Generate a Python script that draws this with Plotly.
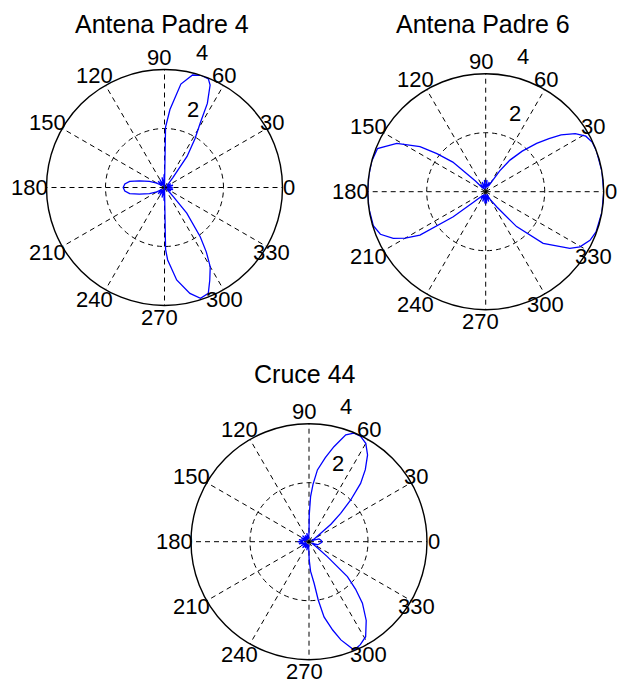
import math
import plotly.graph_objects as go

# ---------------- data ----------------
TITLES = ["Antena Padre 4", "Antena Padre 6", "Cruce 44"]

ANGLE_TICKS = [0, 30, 60, 90, 120, 150, 180, 210, 240, 270, 300, 330]
ANGLE_LABELS = ["0", "30", "60", "90", "120", "150", "180", "210", "240", "270", "300", "330"]
RADIAL_TICKS = [2, 4]
RADIAL_LABELS = ["2", "4"]

P1_THETA = [0, 8, 15, 22, 30, 38, 45, 50, 54, 58, 61, 63, 66, 68, 72, 76, 81, 86, 89, 90,
            92, 97, 104, 112, 120, 128, 136, 144, 150, 158, 165, 170, 175, 180, 185, 190,
            195, 202, 210, 216, 224, 232, 240, 248, 256, 263, 268, 270, 271, 272.5, 277.5,
            283.5, 288, 292.5, 296, 300, 303, 306, 311, 314, 318, 325, 332, 340, 347, 354, 360]
P1_R = [0.28, 0.1, 0.3, 0.08, 0.25, 0.1, 0.2, 0.45, 1.3, 1.95, 2.5, 3.2, 3.8, 3.97, 4.0, 3.93,
        3.55, 2.65, 2.05, 0.0, 0.45, 0.1, 0.35, 0.08, 0.3, 0.1, 0.3, 0.1, 0.3, 0.55, 0.88, 1.2,
        1.35, 1.4, 1.35, 1.2, 0.88, 0.55, 0.3, 0.1, 0.3, 0.1, 0.3, 0.08, 0.35, 0.1, 0.45, 0.0,
        2.1, 2.46, 3.16, 3.69, 3.95, 3.88, 3.5, 3.1, 2.6, 2.06, 1.15, 0.45, 0.2, 0.08, 0.25,
        0.1, 0.3, 0.1, 0.28]

P2_THETA = [0, 10, 20, 25, 29, 33, 37, 40, 43.5, 48, 52.5, 56, 59, 64, 70, 77, 84, 90, 96, 103,
            110, 117, 124, 130, 134, 138, 142, 145.6, 151.5, 158.3, 165, 172, 180, 188, 196.8,
            202, 206.8, 210, 213.4, 217.7, 221, 226, 232, 239, 246, 253, 260, 266, 270, 274,
            280, 287, 294, 300, 306, 311.5, 318, 326, 329.7, 335, 340, 350, 360]
P2_R = [4.0, 4.0, 4.0, 3.98, 3.88, 3.62, 3.2, 2.8, 2.38, 1.85, 1.35, 0.85, 0.4, 0.2, 0.35,
        0.15, 0.4, 0.1, 0.4, 0.15, 0.35, 0.1, 0.3, 0.15, 0.5, 1.5, 2.1, 2.7, 3.43, 3.95, 4.0,
        4.0, 4.0, 4.0, 3.98, 3.85, 3.51, 3.15, 2.67, 1.39, 0.55, 0.25, 0.15, 0.3, 0.1, 0.35,
        0.15, 0.4, 0.1, 0.4, 0.15, 0.35, 0.1, 0.3, 0.63, 1.58, 2.62, 3.44, 3.7, 3.9, 3.98, 4.0,
        4.0]

P3_THETA = [0, 8, 16, 22, 28, 35.7, 38.5, 41.9, 45, 48.5, 52, 56, 60, 64, 67.5, 71, 75.3, 79,
            83.3, 86, 88, 89.5, 90, 97, 105, 113, 121, 129, 137, 145, 153, 161, 168, 174, 180,
            186, 192, 199, 207, 215, 223, 231, 239, 247, 255, 263, 269, 270.5, 273, 277, 279,
            281.3, 285, 288, 292.6, 296.5, 300.8, 306, 311, 314.5, 317.7, 320.8, 325, 332, 340,
            347, 354, 360]
P3_R = [0.45, 0.4, 0.35, 0.1, 0.2, 0.49, 0.95, 1.44, 2.0, 2.64, 3.1, 3.55, 3.85, 3.98, 3.98,
        3.83, 3.33, 2.9, 2.45, 1.95, 1.53, 0.9, 0.3, 0.1, 0.3, 0.1, 0.25, 0.08, 0.3, 0.1, 0.3,
        0.1, 0.35, 0.2, 0.38, 0.2, 0.35, 0.1, 0.3, 0.1, 0.3, 0.1, 0.25, 0.1, 0.3, 0.1, 0.3,
        0.6, 1.0, 1.42, 2.0, 2.6, 3.1, 3.5, 3.98, 3.9, 3.75, 3.3, 2.76, 2.25, 1.76, 0.8, 0.3,
        0.1, 0.3, 0.35, 0.4, 0.45]

SERIES = [(P1_THETA, P1_R), (P2_THETA, P2_R), (P3_THETA, P3_R)]

# ---------------- layout ----------------
W, H = 618, 684
FONT = "Liberation Sans, Arial, sans-serif"
CENTERS = [(164.5, 187.5, 118), (485.7, 191.7, 118), (309.0, 541.7, 118)]
TITLE_POS = [(161.7, 24), (482.5, 24), (305.0, 374)]
RMAX = 4
LABEL_FRAC = 1.1          # MATLAB puts angle labels at 1.1*rmax
LABEL_DX = -5             # small horizontal shift seen in the reference
RLABEL_POS = [(2.83, 69.8), (4.75, 74.6)]   # (radius in data units, angle deg)
TICK_SIZE = 22
TITLE_SIZE = 25


def domain(cx, cy, rad):
    return dict(x=[(cx - rad) / W, (cx + rad) / W],
                y=[(H - (cy + rad)) / H, (H - (cy - rad)) / H])


def to_paper(cx, cy, rad, r_data, ang_deg):
    d = r_data / RMAX * rad
    a = math.radians(ang_deg)
    return (cx + d * math.cos(a)) / W, 1 - (cy - d * math.sin(a)) / H


fig = go.Figure()
layout = dict(width=W, height=H, margin=dict(l=0, r=0, t=0, b=0),
              paper_bgcolor="white", plot_bgcolor="white", showlegend=False,
              font=dict(family=FONT, color="black"))
annotations = []

for i, ((th, rr), (cx, cy, rad)) in enumerate(zip(SERIES, CENTERS)):
    sub = "polar" if i == 0 else f"polar{i+1}"
    layout[sub] = dict(
        domain=domain(cx, cy, rad),
        bgcolor="white",
        radialaxis=dict(range=[0, RMAX], tickmode="array", tickvals=[RADIAL_TICKS[0]],
                        showticklabels=False, ticks="", showline=False,
                        gridcolor="black", griddash="5px,4px", gridwidth=1.1),
        angularaxis=dict(rotation=0, direction="counterclockwise", tickmode="array",
                         tickvals=ANGLE_TICKS, showticklabels=False, ticks="",
                         showline=True, linecolor="black", linewidth=1.4,
                         gridcolor="black", griddash="5px,4px", gridwidth=1.1),
    )
    fig.add_trace(go.Scatterpolar(theta=th, r=rr, mode="lines", subplot=sub,
                                  line=dict(color="#0000ff", width=1.3),
                                  cliponaxis=False, hoverinfo="skip"))
    # angle labels
    for ang, lab in zip(ANGLE_TICKS, ANGLE_LABELS):
        x, y = to_paper(cx, cy, rad, LABEL_FRAC * RMAX, ang)
        annotations.append(dict(text=lab, x=x + LABEL_DX / W, y=y, xref="paper", yref="paper",
                                xanchor="center", yanchor="middle", showarrow=False,
                                font=dict(family=FONT, size=TICK_SIZE, color="black")))
    # radial labels
    for (rpos, apos), lab in zip(RLABEL_POS, RADIAL_LABELS):
        x, y = to_paper(cx, cy, rad, rpos, apos)
        annotations.append(dict(text=lab, x=x, y=y, xref="paper", yref="paper",
                                xanchor="center", yanchor="middle", showarrow=False,
                                font=dict(family=FONT, size=TICK_SIZE, color="black")))
    tx, ty = TITLE_POS[i]
    annotations.append(dict(text=TITLES[i], x=tx / W, y=1 - ty / H, xref="paper", yref="paper",
                            xanchor="center", yanchor="middle", showarrow=False,
                            font=dict(family=FONT, size=TITLE_SIZE, color="black")))

layout["annotations"] = annotations
fig.update_layout(**layout)
fig.write_html("out.html")
